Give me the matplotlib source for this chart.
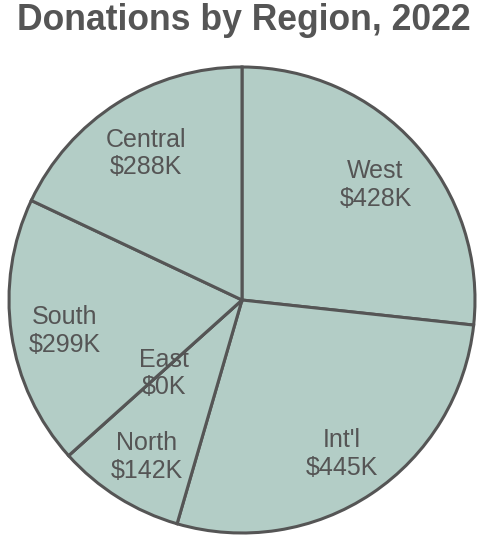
import numpy as np
import matplotlib.pyplot as plt

# Donations by region, thousands of dollars (clockwise from top)
regions = ["West", "Int'l", "North", "East", "South", "Central"]
donations = [428, 445, 142, 0, 299, 288]

fill = "#b3cdc6"
ink = "#555555"

fig = plt.figure(figsize=(4.83, 5.40), dpi=100)
ax = fig.add_axes([9 / 483, 7 / 540, 466 / 483, 466 / 540])

labels = [f"{r}\n${v}K" for r, v in zip(regions, donations)]
wedges, texts = ax.pie(
    donations, labels=labels, startangle=90, counterclock=False,
    colors=[fill] * len(donations), labeldistance=0.77,
    wedgeprops=dict(edgecolor=ink, linewidth=2.2, clip_on=False),
    textprops=dict(color=ink, fontsize=18, family="Liberation Sans",
                   ha="center", va="center", linespacing=1.2),
)
for t in texts:
    t.set_horizontalalignment("center")
    x, y = t.get_position()
    t.set_position((x, y - 0.022))
# the zero-sized slice label sits closer to the centre
i = regions.index("East")
x, y = texts[i].get_position()
texts[i].set_position((x * 0.45 / 0.77, (y + 0.022) * 0.45 / 0.77 - 0.015))

ax.set_xlim(-1, 1)
ax.set_ylim(-1, 1)
ax.set_aspect("equal")

fig.text(0.505, 0.962, "Donations by Region, 2022", ha="center", va="center",
         fontsize=25.6, fontweight="bold", color=ink, family="Liberation Sans")

fig.savefig("out.png", dpi=100)
